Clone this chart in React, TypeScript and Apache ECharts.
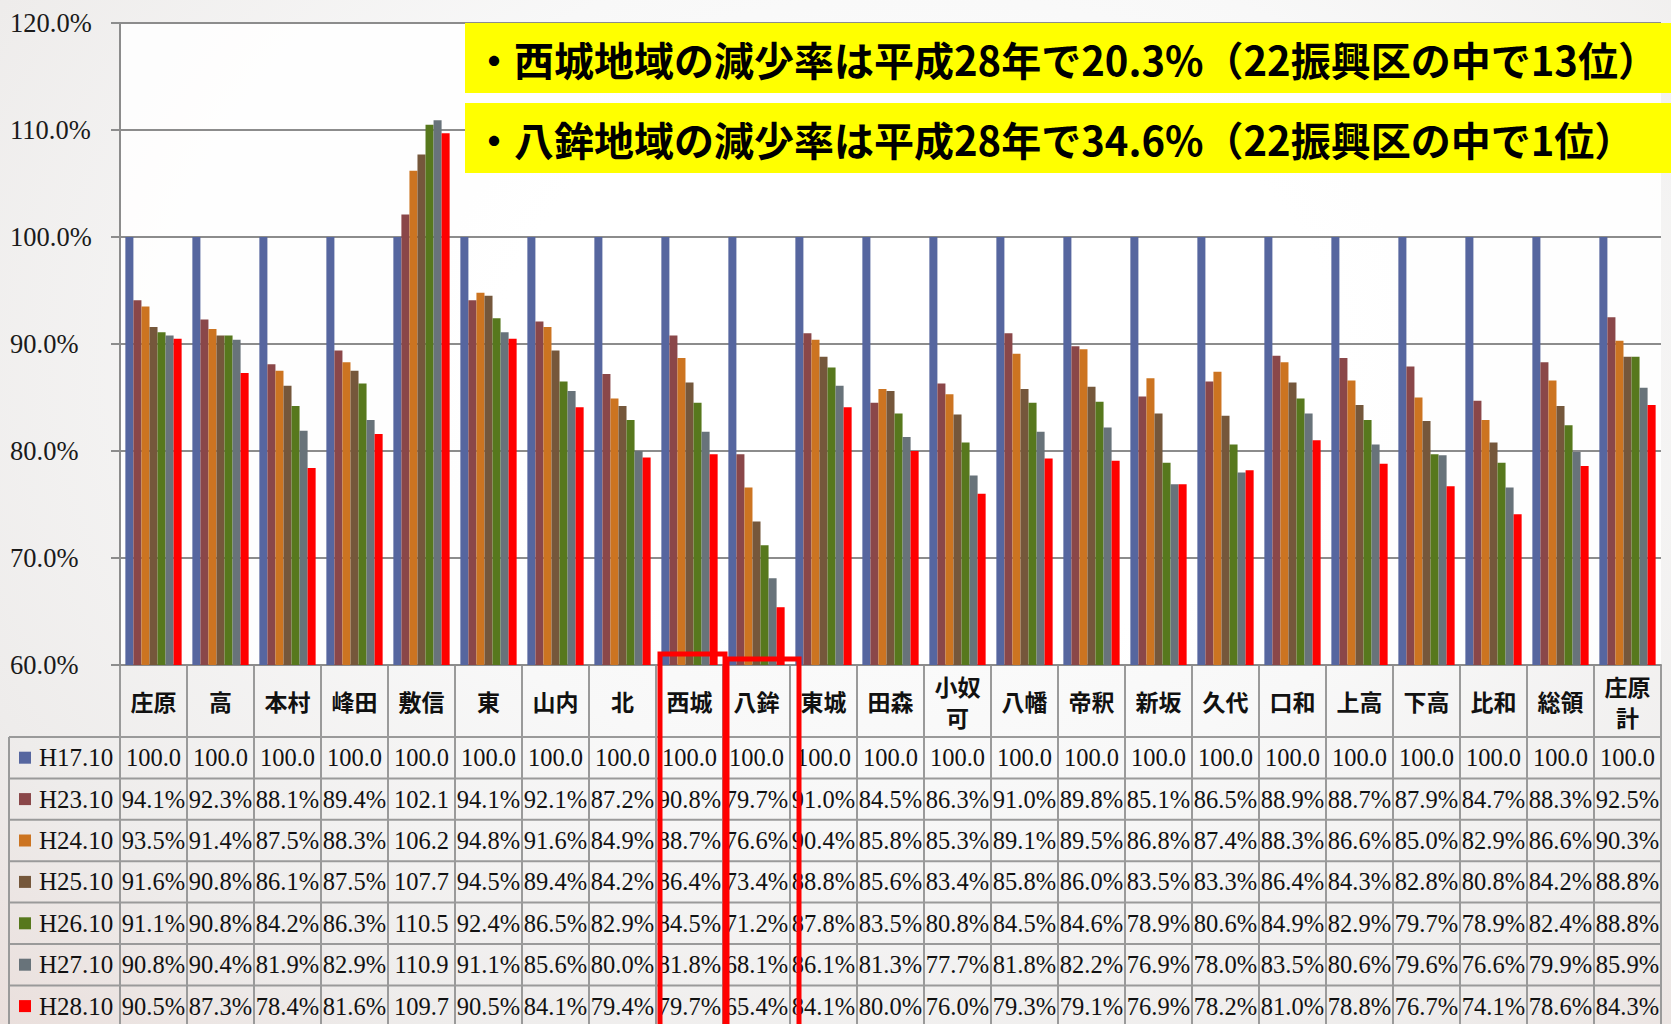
import React, { useEffect, useRef } from "react";
import * as echarts from "echarts";

const categories = ["庄原", "高", "本村", "峰田", "敷信", "東", "山内", "北", "西城", "八鉾", "東城", "田森", "小奴可", "八幡", "帝釈", "新坂", "久代", "口和", "上高", "下高", "比和", "総領", "庄原計"];
const seriesNames = ["H17.10", "H23.10", "H24.10", "H25.10", "H26.10", "H27.10", "H28.10"];
const h17 = [100, 100, 100, 100, 100, 100, 100, 100, 100, 100, 100, 100, 100, 100, 100, 100, 100, 100, 100, 100, 100, 100, 100];
const h23 = [94.1, 92.3, 88.1, 89.4, 102.1, 94.1, 92.1, 87.2, 90.8, 79.7, 91.0, 84.5, 86.3, 91.0, 89.8, 85.1, 86.5, 88.9, 88.7, 87.9, 84.7, 88.3, 92.5];
const h24 = [93.5, 91.4, 87.5, 88.3, 106.2, 94.8, 91.6, 84.9, 88.7, 76.6, 90.4, 85.8, 85.3, 89.1, 89.5, 86.8, 87.4, 88.3, 86.6, 85.0, 82.9, 86.6, 90.3];
const h25 = [91.6, 90.8, 86.1, 87.5, 107.7, 94.5, 89.4, 84.2, 86.4, 73.4, 88.8, 85.6, 83.4, 85.8, 86.0, 83.5, 83.3, 86.4, 84.3, 82.8, 80.8, 84.2, 88.8];
const h26 = [91.1, 90.8, 84.2, 86.3, 110.5, 92.4, 86.5, 82.9, 84.5, 71.2, 87.8, 83.5, 80.8, 84.5, 84.6, 78.9, 80.6, 84.9, 82.9, 79.7, 78.9, 82.4, 88.8];
const h27 = [90.8, 90.4, 81.9, 82.9, 110.9, 91.1, 85.6, 80.0, 81.8, 68.1, 86.1, 81.3, 77.7, 81.8, 82.2, 76.9, 78.0, 83.5, 80.6, 79.6, 76.6, 79.9, 85.9];
const h28 = [90.5, 87.3, 78.4, 81.6, 109.7, 90.5, 84.1, 79.4, 79.7, 65.4, 84.1, 80.0, 76.0, 79.3, 79.1, 76.9, 78.2, 81.0, 78.8, 76.7, 74.1, 78.6, 84.3];
const seriesData = [h17, h23, h24, h25, h26, h27, h28];
const colors = ["#56669F", "#8A4749", "#CC7421", "#75573B", "#57781D", "#68737A", "#FF0000"];
const notes = [
  "・西城地域の減少率は平成28年で20.3%（22振興区の中で13位）",
  "・八鉾地域の減少率は平成28年で34.6%（22振興区の中で1位）",
];
const highlighted = ["西城", "八鉾"];

const SERIF = "'Liberation Serif', 'Times New Roman', serif";
const CJK = "'Noto Sans CJK JP', sans-serif";

function fmtCell(row: number, v: number) {
  if (row === 0 || v >= 100) return v.toFixed(1);
  return v.toFixed(1) + "%";
}
function headerLabel(name: string) {
  return name.length > 2 ? name.slice(0, 2) + "\n" + name.slice(2) : name;
}

export default function App() {
  const ref = useRef<HTMLDivElement>(null);
  useEffect(() => {
    document.body.style.margin = "0";
    const chart = echarts.init(ref.current!, null, { renderer: "svg" });
    const gridLeft = 120;
    const gridTop = 23;
    const gridW = 1541;
    const gridH = 642;
    chart.setOption({
      animation: false,
      backgroundColor: "transparent",
      grid: { left: gridLeft, top: gridTop, width: gridW, height: gridH, show: true, backgroundColor: "rgba(255,255,255,0.85)", borderWidth: 0 },
      xAxis: {
        type: "category",
        data: categories,
        axisLine: { show: true, lineStyle: { color: "#8c8c8c", width: 2 } },
        axisTick: { show: false },
        axisLabel: { show: false },
      },
      yAxis: {
        type: "value",
        min: 60,
        max: 120,
        interval: 10,
        axisLine: { show: true, lineStyle: { color: "#8c8c8c", width: 2 } },
        axisTick: { show: true, length: 9, lineStyle: { color: "#8c8c8c", width: 2 } },
        splitLine: { show: true, lineStyle: { color: "#8c8c8c", width: 2 } },
        axisLabel: {
          formatter: (v: number) => v.toFixed(1) + "%",
          fontFamily: SERIF,
          fontSize: 26.5,
          color: "#1a1a1a",
          align: "left",
          margin: 110,
        },
      },
      series: seriesNames.map((name, i) => ({
        name,
        type: "bar",
        data: seriesData[i],
        barGap: "0%",
        barCategoryGap: "16%",
        itemStyle: { color: colors[i] },
        silent: true,
      })),
    });

    const x0 = chart.convertToPixel({ xAxisIndex: 0 }, categories[0]) as number;
    const x1 = chart.convertToPixel({ xAxisIndex: 0 }, categories[1]) as number;
    const band = x1 - x0;
    const axisY = chart.convertToPixel({ yAxisIndex: 0 }, 60) as number;
    const left = x0 - band / 2;
    const right = left + band * categories.length;
    const headerH = 72;
    const rowH = 41.4;
    const tableLeft = 9;
    const tableBottom = axisY + headerH + rowH * seriesNames.length;
    const lineStyle = { stroke: "#9a9a9a", lineWidth: 2 };
    const g: any[] = [];
    for (let i = 0; i <= categories.length; i++) {
      const x = left + band * i;
      g.push({ type: "line", silent: true, shape: { x1: x, y1: axisY, x2: x, y2: tableBottom }, style: lineStyle });
    }
    g.push({ type: "line", silent: true, shape: { x1: tableLeft, y1: axisY + headerH, x2: tableLeft, y2: tableBottom }, style: lineStyle });
    for (let r = 0; r <= seriesNames.length; r++) {
      const y = axisY + headerH + rowH * r;
      g.push({ type: "line", silent: true, shape: { x1: tableLeft, y1: y, x2: right, y2: y }, style: lineStyle });
    }
    categories.forEach((c, i) => {
      g.push({
        type: "text",
        silent: true,
        x: left + band * (i + 0.5),
        y: axisY + headerH / 2,
        style: { text: headerLabel(c), fontFamily: CJK, fontWeight: "bold", fontSize: 23, lineHeight: 31, fill: "#111", align: "center", verticalAlign: "middle" },
      });
    });
    seriesNames.forEach((s, r) => {
      const cy = axisY + headerH + rowH * (r + 0.5);
      g.push({ type: "rect", silent: true, shape: { x: 19, y: cy - 6, width: 12, height: 12 }, style: { fill: colors[r] } });
      g.push({
        type: "text",
        silent: true,
        x: 39,
        y: cy,
        style: { text: s, fontFamily: SERIF, fontSize: 25, fill: "#111", align: "left", verticalAlign: "middle" },
      });
      seriesData[r].forEach((v, i) => {
        g.push({
          type: "text",
          silent: true,
          x: left + band * (i + 0.5),
          y: cy,
          style: { text: fmtCell(r, v), fontFamily: SERIF, fontSize: 24.5, fill: "#111", align: "center", verticalAlign: "middle" },
        });
      });
    });
    const boxOffsets = [
      { l: 4, r: 2, t: -11 },
      { l: 4, r: 9, t: -6 },
    ];
    highlighted.forEach((name, k) => {
      const i = categories.indexOf(name);
      const bx = left + band * i + boxOffsets[k].l;
      const bw = band - boxOffsets[k].l + boxOffsets[k].r;
      const by = axisY + boxOffsets[k].t;
      g.push({
        type: "rect",
        silent: true,
        z: 100,
        shape: { x: bx, y: by, width: bw, height: 1100 - by },
        style: { fill: "none", stroke: "#FF0000", lineWidth: 5 },
      });
    });
    notes.forEach((t, k) => {
      const top = 23 + k * 80;
      g.push({ type: "rect", silent: true, z: 90, shape: { x: 465, y: top, width: 1206, height: 70 }, style: { fill: "#FFFF00" } });
      g.push({
        type: "text",
        silent: true,
        z: 91,
        x: 474,
        y: top + 36,
        style: { text: t, fontFamily: CJK, fontWeight: "bold", fontSize: 40, fill: "#000", align: "left", verticalAlign: "middle" },
      });
    });
    chart.setOption({ graphic: g });
    return () => chart.dispose();
  }, []);
  return (
    <div
      ref={ref}
      style={{
        width: 1671,
        height: 1024,
        background: "radial-gradient(ellipse at 55% 35%, #ffffff 0%, #f8f8f8 45%, #eeeceb 80%, #eadfdc 100%)",
      }}
    />
  );
}
